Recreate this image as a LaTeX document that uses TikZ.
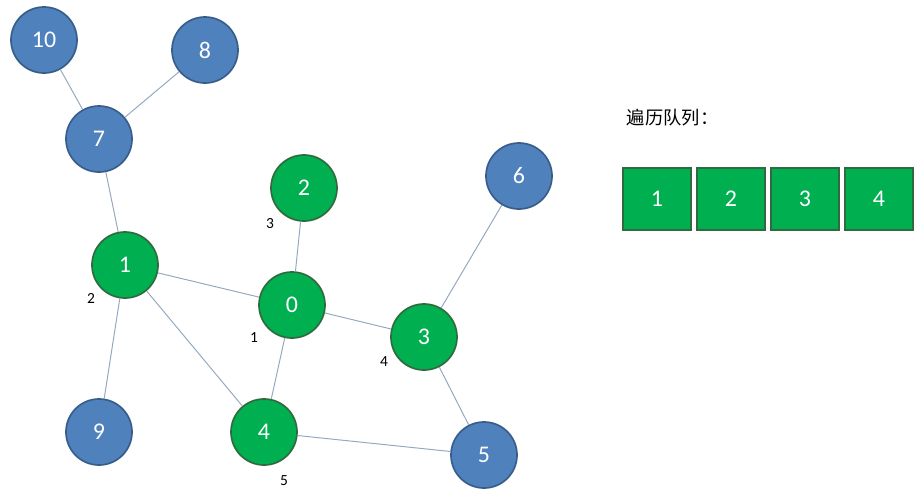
\documentclass[tikz,border=0pt]{standalone}
\usepackage{fontspec}
\setmainfont{Carlito}
\newfontfamily\cjk{Noto Sans CJK SC}
\usetikzlibrary{positioning}
\definecolor{nodeblue}{HTML}{4F81BD}
\definecolor{edgeblue}{HTML}{385D8A}
\definecolor{nodegreen}{HTML}{00B050}
\definecolor{edgegreen}{HTML}{2F6B3F}
\definecolor{linkgray}{HTML}{95A8C0}
\begin{document}
\begin{tikzpicture}[
    x=0.025cm, y=-0.025cm,
    vtx/.style={circle, minimum size=1.65cm, inner sep=0pt, line width=1.2pt, text=white, font=\fontsize{17}{17}\selectfont},
    unseen/.style={vtx, draw=edgeblue, fill=nodeblue},
    seen/.style={vtx, draw=edgegreen, fill=nodegreen},
    link/.style={linkgray, line width=0.7pt},
    order/.style={font=\fontsize{11}{11}\selectfont},
    qbox/.style={rectangle, draw=edgegreen, fill=nodegreen, line width=1.4pt, minimum width=1.7cm, minimum height=1.55cm, text=white, font=\fontsize{17}{17}\selectfont}
]
\useasboundingbox (0,0) rectangle (916,496);
% vertices
\node[unseen] (v10) at (44,40) {10};
\node[unseen] (v8) at (205,50) {8};
\node[unseen] (v7) at (99,139) {7};
\node[seen] (v2) at (304,188) {2};
\node[unseen] (v6) at (519,176) {6};
\node[seen] (v1) at (125,265) {1};
\node[seen] (v0) at (292,305) {0};
\node[seen] (v3) at (424,337) {3};
\node[unseen] (v9) at (99,432) {9};
\node[seen] (v4) at (264,432) {4};
\node[unseen] (v5) at (484,455) {5};

% edges
\begin{scope}[on background layer/.style={}]
\draw[link] (v10) -- (v7);
\draw[link] (v8) -- (v7);
\draw[link] (v7) -- (v1);
\draw[link] (v1) -- (v0);
\draw[link] (v1) -- (v9);
\draw[link] (v1) -- (v4);
\draw[link] (v0) -- (v2);
\draw[link] (v0) -- (v3);
\draw[link] (v0) -- (v4);
\draw[link] (v3) -- (v6);
\draw[link] (v3) -- (v5);
\draw[link] (v4) -- (v5);
\end{scope}

% visit order
\node[order] (o0) at (254,338) {1};
\node[order] (o1) at (91,298) {2};
\node[order] (o2) at (270,224) {3};
\node[order] (o3) at (384,362) {4};
\node[order] (o4) at (284,481) {5};

% queue
\node[font=\cjk\fontsize{13}{13}\selectfont, anchor=west] (qtitle) at (622,118) {遍历队列：};
\node[qbox] (q1) at (657,199) {1};
\node[qbox, right=0.1cm of q1] (q2) {2};
\node[qbox, right=0.1cm of q2] (q3) {3};
\node[qbox, right=0.1cm of q3] (q4) {4};
\end{tikzpicture}
\end{document}
